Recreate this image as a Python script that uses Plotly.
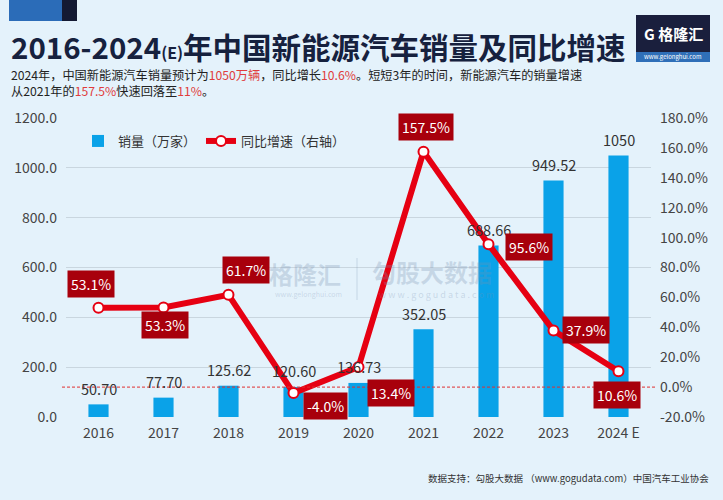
import plotly.graph_objects as go

years = ["2016", "2017", "2018", "2019", "2020", "2021", "2022", "2023", "2024 E"]
sales = [50.70, 77.70, 125.62, 120.60, 136.73, 352.05, 688.66, 949.52, 1050]
sales_labels = ["50.70", "77.70", "125.62", "120.60", "136.73", "352.05", "688.66", "949.52", "1050"]
growth = [53.1, 53.3, 61.7, -4.0, 13.4, 157.5, 95.6, 37.9, 10.6]
growth_labels = ["53.1%", "53.3%", "61.7%", "-4.0%", "13.4%", "157.5%", "95.6%", "37.9%", "10.6%"]
left_ticks = [0, 200, 400, 600, 800, 1000, 1200]
right_ticks = [-20, 0, 20, 40, 60, 80, 100, 120, 140, 160, 180]

# label offsets (pixels) for growth boxes
g_shift = [(-8, 24), (1, -18), (17, 25), (32, -13), (32, -26), (2, 25), (40, -3), (32, 0), (-2, -24)]

BG = "#e4f2fb"
BAR = "#0aa2e8"
RED = "#e60012"
BOX = "#a8000c"
FONT = "Noto Sans CJK SC"

def px(x):
    return (x - 66) / 585

def py(y):
    return (417 - y) / 299

fig = go.Figure()
fig.add_trace(go.Bar(x=years, y=sales, name="销量（万家）", marker_color=BAR,
                     marker_line_width=0, yaxis="y", width=0.31))
fig.add_trace(go.Scatter(x=years, y=growth, name="同比增速（右轴）", yaxis="y2",
                         mode="lines+markers",
                         line=dict(color=RED, width=6),
                         marker=dict(color="white", size=10, line=dict(color=RED, width=2))))

ann = []
for i, (v, t) in enumerate(zip(sales, sales_labels)):
    ann.append(dict(x=i, y=v, xref="x", yref="y", text=t, showarrow=False,
                    yshift=16, font=dict(family=FONT, size=14.5, color="#333333")))
for i, (v, t, (dx, dy)) in enumerate(zip(growth, growth_labels, g_shift)):
    ann.append(dict(x=i, y=v, xref="x", yref="y2", text=t, showarrow=False,
                    xshift=dx, yshift=dy, bgcolor=BOX, borderpad=3,
                    font=dict(family=FONT, size=14, color="white")))

title_txt = ("<b>2016-2024<span style='font-size:16px'>(E)</span>年中国新能源汽车销量及同比增速</b>")
ann.append(dict(xref="paper", yref="paper", x=px(9), y=py(46), xanchor="left", yanchor="middle",
                text=title_txt, showarrow=False, font=dict(family=FONT, size=29.5, color="#16213e")))
sub = ("2024年，中国新能源汽车销量预计为<span style='color:#e03c3c'>1050万辆</span>，同比增长"
       "<span style='color:#e03c3c'>10.6%</span>。短短3年的时间，新能源汽车的销量增速<br>"
       "从2021年的<span style='color:#e03c3c'>157.5%</span>快速回落至<span style='color:#e03c3c'>11%</span>。")
ann.append(dict(xref="paper", yref="paper", x=px(9), y=py(83), xanchor="left", yanchor="middle",
                align="left", text=sub, showarrow=False, font=dict(family=FONT, size=12.2, color="#222222")))
# footer
ann.append(dict(xref="paper", yref="paper", x=px(711), y=py(478), xanchor="right", yanchor="middle",
                text="数据支持：勾股大数据 （www.gogudata.com）中国汽车工业协会", showarrow=False,
                font=dict(family=FONT, size=9.5, color="#333333")))
# logo
ann.append(dict(xref="paper", yref="paper", x=px(673), y=py(34), xanchor="center", yanchor="middle",
                text="<b>G 格隆汇</b>", showarrow=False, font=dict(family=FONT, size=15, color="white")))
ann.append(dict(xref="paper", yref="paper", x=px(673), y=py(57), xanchor="center", yanchor="middle",
                text="www.gelonghui.com", showarrow=False, font=dict(family=FONT, size=6, color="white")))
# watermarks
wm = "rgba(120,145,175,0.28)"
ann.append(dict(xref="paper", yref="paper", x=px(305), y=py(273), xanchor="center", yanchor="middle",
                text="<b>格隆汇</b>", showarrow=False, font=dict(family=FONT, size=24, color=wm)))
ann.append(dict(xref="paper", yref="paper", x=px(308), y=py(294), xanchor="center", yanchor="middle",
                text="www.gelonghui.com", showarrow=False, font=dict(family=FONT, size=7, color=wm)))
ann.append(dict(xref="paper", yref="paper", x=px(432), y=py(271), xanchor="center", yanchor="middle",
                text="<b>勾股大数据</b>", showarrow=False, font=dict(family=FONT, size=24, color=wm)))
ann.append(dict(xref="paper", yref="paper", x=px(436), y=py(294), xanchor="center", yanchor="middle",
                text="w w w . g o g u d a t a . c o m", showarrow=False, font=dict(family=FONT, size=9, color=wm)))

shapes = [
    dict(type="rect", xref="paper", yref="paper", x0=px(9), x1=px(62),
         y0=py(21), y1=py(0), fillcolor="#2b6cb8", line_width=0, layer="below"),
    dict(type="rect", xref="paper", yref="paper", x0=px(62), x1=px(77),
         y0=py(21), y1=py(0), fillcolor="#141a33", line_width=0, layer="below"),
    dict(type="rect", xref="paper", yref="paper", x0=px(636), x1=px(710),
         y0=py(62), y1=py(15), fillcolor="#1a1f3d", line_width=0, layer="below"),
    dict(type="rect", xref="paper", yref="paper", x0=px(636), x1=px(710),
         y0=py(62), y1=py(52), fillcolor="#2f6fb8", line_width=0, layer="below"),
    dict(type="line", xref="paper", yref="y2", x0=px(62), x1=px(656), y0=0, y1=0,
         line=dict(color="#e03030", width=1, dash="3px,2px")),
    dict(type="line", xref="paper", yref="paper", x0=px(357), x1=px(357),
         y0=py(300), y1=py(258), line=dict(color=wm, width=1)),
]

fig.update_layout(
    width=723, height=500,
    margin=dict(l=66, r=72, t=118, b=83),
    paper_bgcolor=BG, plot_bgcolor=BG,
    font=dict(family=FONT, color="#444444"),
    showlegend=True,
    legend=dict(orientation="h", x=px(78), y=py(141), xanchor="left", yanchor="middle",
                bgcolor="rgba(0,0,0,0)", font=dict(family=FONT, size=13, color="#333333"),
                itemwidth=30, tracegroupgap=0),
    bargap=0.69,
    xaxis=dict(type="category", categoryorder="array", categoryarray=years, range=[-0.5, 8.5],
               showgrid=False, showline=False, ticks="", tickfont=dict(family=FONT, size=14, color="#444444"),
               ticklabelstandoff=6),
    yaxis=dict(range=[0, 1200], tickvals=left_ticks, ticktext=[f"{v:.1f}" for v in left_ticks],
               showgrid=True, gridcolor="#c9d6df", gridwidth=1, zeroline=False, showline=False,
               tickfont=dict(family=FONT, size=14, color="#444444"), ticklabelstandoff=8),
    yaxis2=dict(range=[-20, 180], tickvals=right_ticks, ticktext=[f"{v:.1f}%" for v in right_ticks],
                overlaying="y", side="right", showgrid=False, zeroline=False, showline=False,
                tickfont=dict(family=FONT, size=14, color="#444444"), ticklabelstandoff=8),
    annotations=ann,
    shapes=shapes,
)

fig.write_html("out.html")
